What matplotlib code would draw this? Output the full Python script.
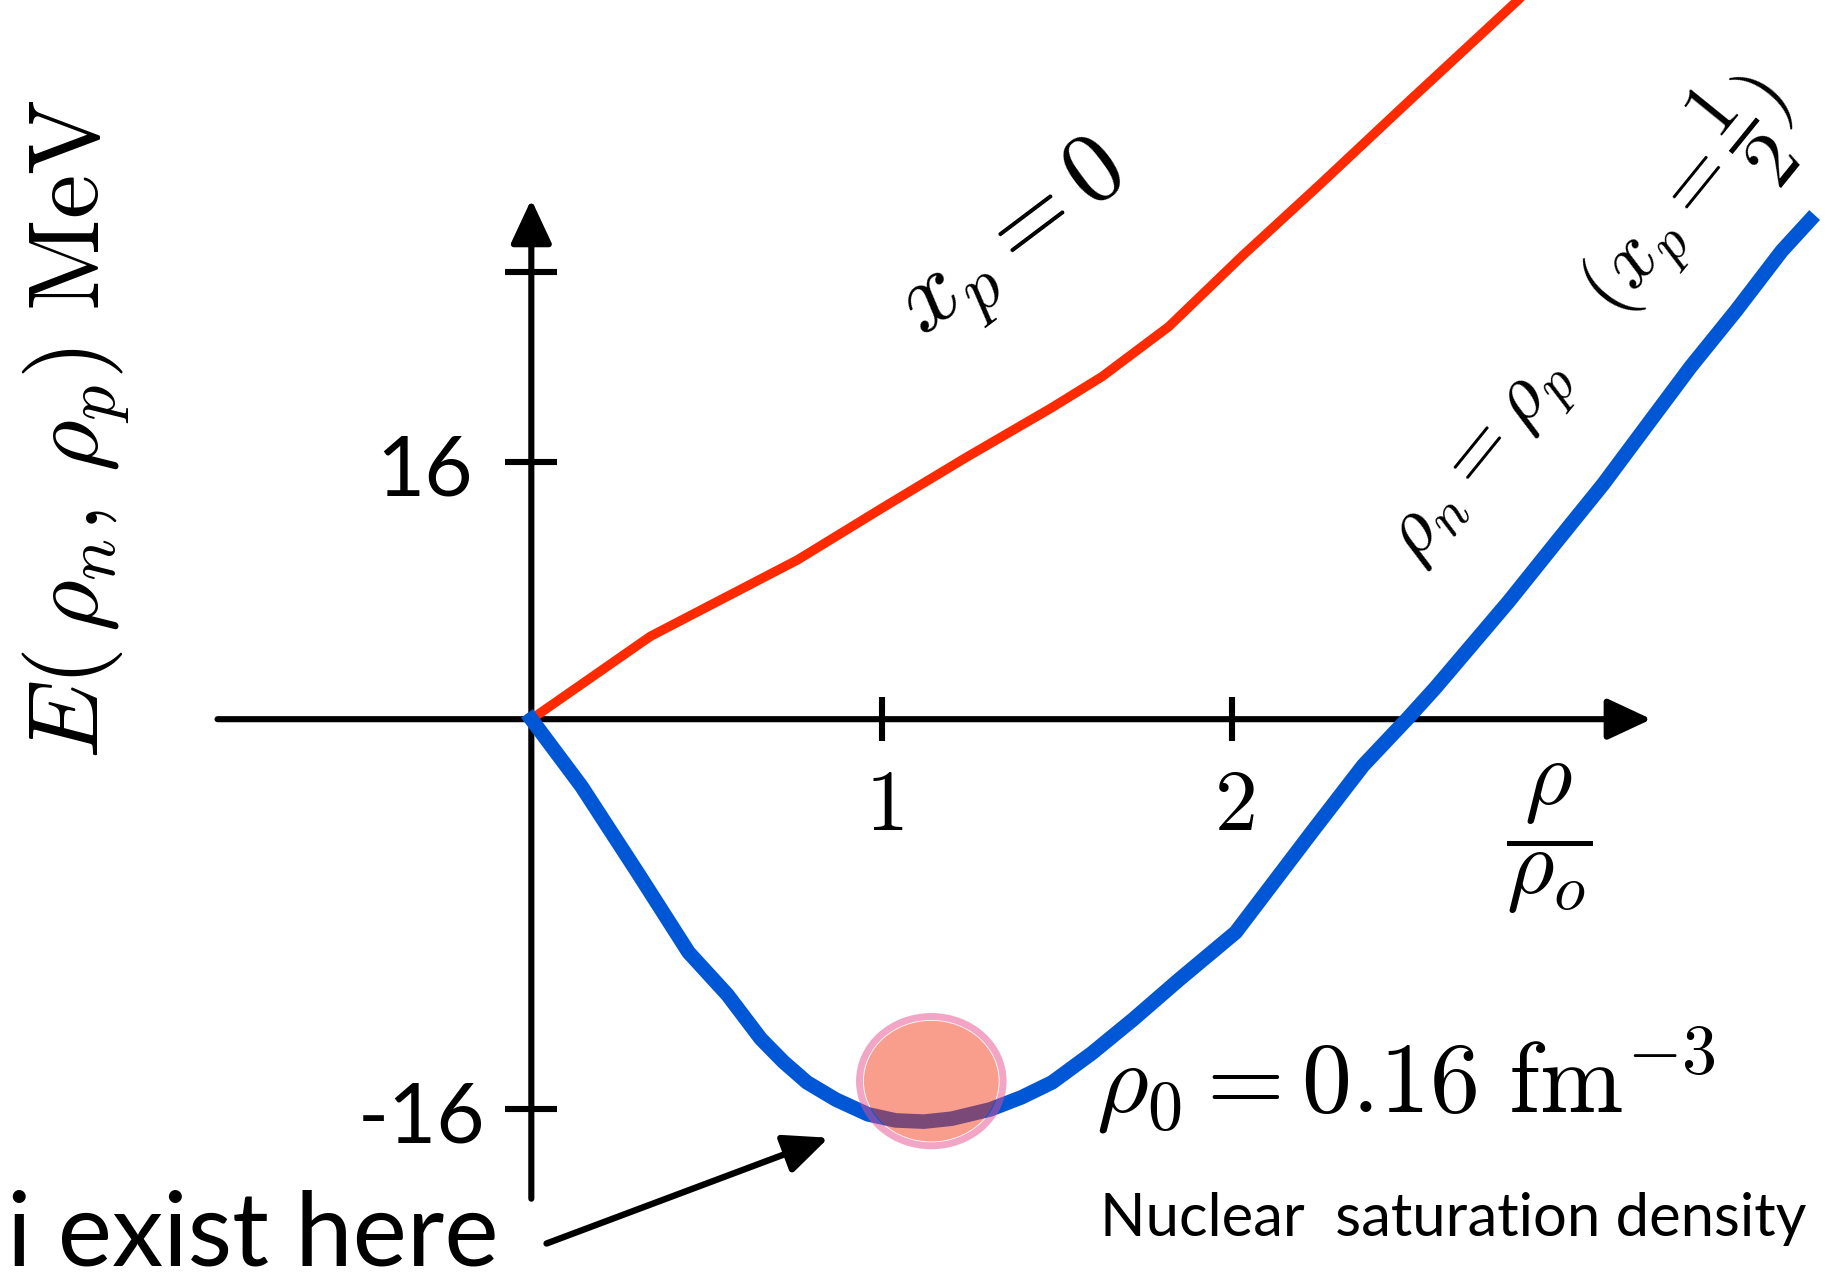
import numpy as np
import matplotlib.pyplot as plt
from matplotlib.patches import Ellipse

plt.rcParams['mathtext.fontset'] = 'cm'
sans = 'Lato'

# energy per nucleon vs rho/rho0
red_x = [0, 0.34, 0.76, 1.0, 1.24, 1.485, 1.63, 1.82, 2.03, 2.25, 2.50, 2.815, 2.9]
red_y = [0, 5.15, 9.9, 13.1, 16.25, 19.35, 21.3, 24.4, 28.8, 33.2, 38.3, 44.65, 46.5]

blue_x = [0, 0.143, 0.303, 0.449, 0.56, 0.655, 0.72, 0.787, 0.87, 0.961, 1.04, 1.121,
          1.2, 1.31, 1.40, 1.487, 1.6, 1.719, 1.85, 2.011, 2.23, 2.375, 2.50, 2.58,
          2.79, 2.93, 3.06, 3.19, 3.31, 3.44, 3.57, 3.65]
blue_y = [0, -2.75, -6.28, -9.56, -11.3, -13.1, -14.05, -14.89, -15.6, -16.2, -16.45, -16.5,
          -16.38, -16.0, -15.5, -14.89, -13.7, -12.3, -10.67, -8.74, -4.6, -1.9, 0, 1.92,
          7.3, 11.1, 14.6, 18.4, 21.9, 25.4, 29.1, 31.0]

x_ticks = [1, 2]
x_tick_labels = ['$1$', '$2$']
y_ticks = [16, -16, 27.8]
y_tick_labels = ['16', '-16', '']

rho_sat = 1.142      # position of the minimum
e_sat = -14.84

# positive energies are drawn compressed
k = 219 / 332
def fwd(y):
    y = np.asarray(y, float)
    return np.where(y > 0, y * k, y)

def inv(v):
    v = np.asarray(v, float)
    return np.where(v > 0, v / k, v)

fig = plt.figure(figsize=(18.43, 12.87), dpi=100)
ax = fig.add_axes([0, 0, 1, 1])
ax.set_yscale('function', functions=(fwd, inv))
ax.set_xlim(-1.517, 3.745)
ax.set_ylim(-23.28, 44.7)
ax.axis('off')

# hand-drawn axes with arrows
arrow = dict(arrowstyle='-|>,head_length=0.9,head_width=0.42', lw=4.4, color='black',
             mutation_scale=30, shrinkA=0, shrinkB=0)
ax.annotate('', xy=(3.198, 0), xytext=(-0.896, 0), arrowprops=arrow, zorder=2)
ax.annotate('', xy=(0, 32.3), xytext=(0, -19.66), arrowprops=arrow, zorder=2)
ax.plot(x_ticks, [0] * len(x_ticks), ls='none', marker='|', ms=32, mew=4.4, color='black', zorder=2)
ax.plot([0] * len(y_ticks), y_ticks, ls='none', marker='_', ms=38, mew=4.4, color='black', zorder=2)

for xv, lab in zip(x_ticks, x_tick_labels):
    ax.annotate(lab, xy=(xv, 0), xytext=(2, -80), textcoords='offset points',
                ha='center', va='baseline', fontsize=62)
ax.annotate(y_tick_labels[0], xy=(0, y_ticks[0]), xytext=(-42, -24), textcoords='offset points',
            ha='right', va='baseline', fontsize=60, family=sans)
ax.annotate(y_tick_labels[1], xy=(0, y_ticks[1]), xytext=(-33, -24), textcoords='offset points',
            ha='right', va='baseline', fontsize=60, family=sans)
ax.text(2.906, -4.9, r'$\dfrac{\rho}{\rho_o}$', ha='center', va='center', fontsize=66)

ax.plot(red_x, red_y, color='#ff2a00', lw=6.8, zorder=3, solid_joinstyle='round')
ax.plot(blue_x, blue_y, color='#0057d6', lw=10.5, zorder=3, solid_joinstyle='round')

# saturation point: pale ring plus translucent fill
ax.add_patch(Ellipse((rho_sat, e_sat), 0.41, 5.3, facecolor='none',
                     edgecolor=(0.9, 0.3, 0.55, 0.5), lw=5, zorder=4))
ax.add_patch(Ellipse((rho_sat, e_sat), 0.385, 4.95, facecolor=(0.96, 0.24, 0.10, 0.5),
                     edgecolor='none', zorder=4))

fig.text(65 / 1568, 1 - 365 / 1095, r'$E(\,\rho_n,\,\rho_p)\ \mathrm{MeV}$',
         rotation=90, ha='center', va='center', fontsize=72)
fig.text(864 / 1568, 1 - 208 / 1095, r'$x_p = 0$', rotation=37,
         ha='center', va='center', fontsize=72)
fig.text(1352 / 1568, 1 - 274 / 1095, r'$\rho_n = \rho_p\quad (x_p = \dfrac{1}{2})$',
         rotation=51, ha='center', va='center', fontsize=58)
fig.text(1196 / 1568, 1 - 920 / 1095, r'$\rho_0 = 0.16\ \mathrm{fm}^{-3}$',
         ha='center', va='center', fontsize=72)
fig.text(1236 / 1568, 1 - 1037 / 1095, 'Nuclear  saturation density',
         ha='center', va='center', fontsize=43, family=sans)
fig.text(6 / 1568, 1 - 1052 / 1095, 'i exist here',
         ha='left', va='center', fontsize=74, family=sans)

ax.annotate('', xy=(705 / 1568, 1 - 968 / 1095), xytext=(465 / 1568, 1 - 1058 / 1095),
            xycoords='figure fraction', textcoords='figure fraction',
            arrowprops=dict(arrowstyle='-|>,head_length=0.9,head_width=0.4', lw=4.6,
                            color='black', mutation_scale=30, shrinkA=0, shrinkB=0))

fig.savefig('out.png', dpi=100)
